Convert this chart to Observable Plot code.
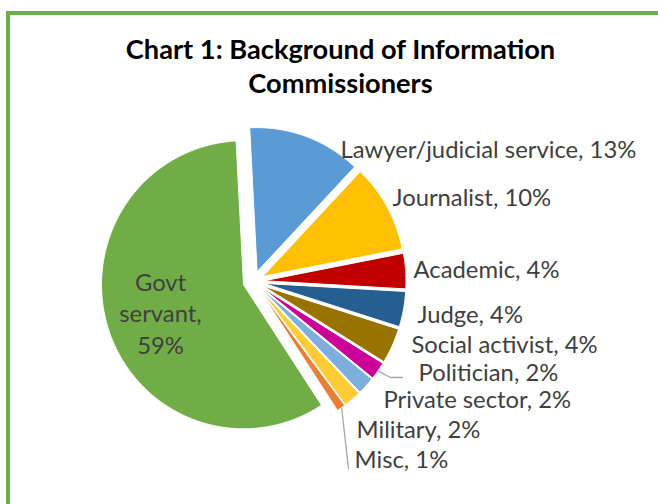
<!DOCTYPE html>
<html><head><meta charset="utf-8">
<script src="https://cdn.jsdelivr.net/npm/d3@7"></script>
<script src="https://cdn.jsdelivr.net/npm/@observablehq/plot@0.6"></script>
<style>
html,body{margin:0;padding:0;background:#fff;overflow:hidden;}
#wrap{position:relative;width:658px;height:504px;overflow:hidden;background:#fff;}
#chart{position:absolute;left:0;top:0;}
#frame{position:absolute;left:6px;top:11px;width:700px;height:600px;border-left:4px solid #70AD47;border-top:4px solid #70AD47;}
</style></head><body>
<div id="wrap"><div id="chart"></div><div id="frame"></div></div>
<script>
// ---- data ----
const categories = ["Lawyer/judicial service","Journalist","Academic","Judge","Social activist","Politician","Private sector","Military","Misc","Govt servant"];
const shares = [13,10,4,4,4,2,2,2,1,59];
const colors = ["#5B9BD5","#FFC000","#C00000","#255E91","#997300","#CC0099","#7CAFDD","#FFCD33","#ED7D31","#70AD47"];
const titleLines = ["Chart 1: Background of Information","Commissioners"];

// ---- layout ----
const cx = 253, cy = 281, rx = 142, ry = 144, explode = 10.5, startDeg = -3;
const labelPos = [[340,157],[392,205],[413,277],[417,322],[411,352],[418,380],[383,407],[356,437],[354,467]];
const insidePos = [160,353]; // centre x, last baseline for the inside label
const leaderEnds = {"Politician": [[390,377],[402,377]], "Misc": [[348,468]]};

// font fitting (Calibri substitute)
const ctx = document.createElement("canvas").getContext("2d");
function fit(text, target, weight){ ctx.font = `${weight} 100px Lato`; return 100*target/ctx.measureText(text).width; }
const labelSize = fit("Lawyer/judicial service, 13%", 296, "normal");
const titleSize = fit(titleLines[0], 430, "bold");

// ---- geometry from d3.pie ----
const a0 = startDeg*Math.PI/180;
const arcs = d3.pie().sort(null).value(d => d).startAngle(a0).endAngle(a0 + 2*Math.PI)(shares);
const slicePts = [];
const outer = {};
arcs.forEach((a, i) => {
  const cat = categories[i];
  const mid = (a.startAngle + a.endAngle)/2;
  const ax = cx + explode*Math.sin(mid), ay = cy - explode*Math.cos(mid);
  slicePts.push({cat, x: ax, y: ay});
  const n = Math.max(2, Math.ceil((a.endAngle - a.startAngle)/0.01));
  for (let k = 0; k <= n; k++) {
    const t = a.startAngle + (a.endAngle - a.startAngle)*k/n;
    slicePts.push({cat, x: ax + rx*Math.sin(t), y: ay - ry*Math.cos(t)});
  }
  slicePts.push({cat, x: ax, y: ay});
  outer[cat] = [ax + (rx+1)*Math.sin(mid), ay - (ry+1)*Math.cos(mid)];
});

const leaderPts = [];
for (const [cat, ends] of Object.entries(leaderEnds)) {
  leaderPts.push({id: cat, x: outer[cat][0], y: outer[cat][1]});
  for (const [x, y] of ends) leaderPts.push({id: cat, x, y});
}

const outsideLabels = categories.slice(0, 9).map((c, i) => ({text: `${c}, ${shares[i]}%`, x: labelPos[i][0], y: labelPos[i][1]}));
const insideLabel = [{text: "Govt\nservant,\n" + shares[9] + "%", x: insidePos[0], y: insidePos[1]}];
const titleData = [{text: titleLines.join("\n"), x: 340, y: 92}];

const plot = Plot.plot({
  width: 658, height: 504, margin: 0,
  x: {domain: [0, 658], range: [0, 658], axis: null},
  y: {domain: [0, 504], range: [0, 504], axis: null},
  color: {domain: categories, range: colors},
  style: {background: "transparent"},
  marks: [
    Plot.line(slicePts, {x: "x", y: "y", z: "cat", fill: "cat", stroke: "white", strokeWidth: 1, curve: "linear"}),
    Plot.line(leaderPts, {x: "x", y: "y", z: "id", stroke: "#A6A6A6", strokeWidth: 1.3}),
    Plot.text(outsideLabels, {x: "x", y: "y", text: "text", textAnchor: "start", lineAnchor: "bottom", fontSize: labelSize, fontFamily: "Lato", fill: "#404040"}),
    Plot.text(insideLabel, {x: "x", y: "y", text: "text", textAnchor: "middle", lineAnchor: "bottom", fontSize: labelSize, lineHeight: 31.5/labelSize, fontFamily: "Lato", fill: "#404040"}),
    Plot.text(titleData, {x: "x", y: "y", text: "text", textAnchor: "middle", lineAnchor: "bottom", fontSize: titleSize, lineHeight: 34/titleSize, fontFamily: "Lato", fontWeight: "bold", fill: "#000"})
  ]
});
document.getElementById("chart").appendChild(plot);
</script>
</body></html>
